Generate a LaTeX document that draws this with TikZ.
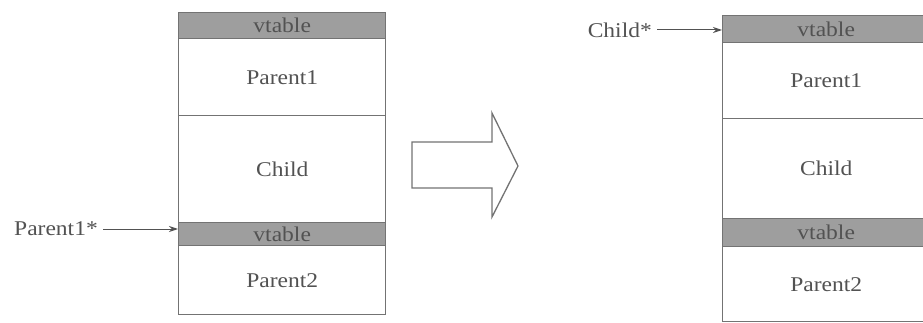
\documentclass[tikz,border=0pt]{standalone}
\usepackage{fontspec}
\setmainfont[FakeStretch=1.12]{Liberation Serif}
\usetikzlibrary{arrows.meta}
\definecolor{edge}{gray}{0.45}
\definecolor{band}{gray}{0.62}
\definecolor{ink}{gray}{0.32}
\tikzset{
  cell/.style={draw=edge, line width=1.4pt, fill=white, minimum width=207pt, inner sep=0pt, anchor=north west, text=ink, font=\fontsize{21}{24}\selectfont},
  vt/.style={cell, fill=band},
  lbl/.style={text=ink, font=\fontsize{21}{24}\selectfont, inner sep=1pt, anchor=east},
  ptr/.style={draw=ink, line width=1pt, -{Stealth[length=9pt,width=6pt]}},
  bigarrow/.style={draw=edge, line width=1.3pt, fill=white, line join=miter}
}
\begin{document}
\begin{tikzpicture}[x=1pt,y=-1pt]
\useasboundingbox (0,0) rectangle (923,323);
% left stack
\node[vt, minimum height=26pt] (l0) at (178,12) {vtable};
\node[cell, minimum height=77pt] (l1) at (178,38) {Parent1};
\node[cell, minimum height=107pt] (l2) at (178,115) {Child};
\node[vt, minimum height=23pt] (l3) at (178,222) {vtable};
\node[cell, minimum height=69pt] (l4) at (178,245) {Parent2};
% right stack
\node[vt, minimum height=27pt] (r0) at (722,15) {vtable};
\node[cell, minimum height=76pt] (r1) at (722,42) {Parent1};
\node[cell, minimum height=100pt] (r2) at (722,118) {Child};
\node[vt, minimum height=28pt] (r3) at (722,218) {vtable};
\node[cell, minimum height=75pt] (r4) at (722,246) {Parent2};
% pointers
\node[lbl] (p1) at (99,229) {Parent1*};
\draw[ptr] (p1.east) ++(4,0) -- (l3.west |- p1.east);
\node[lbl] (c1) at (653,30) {Child*};
\draw[ptr] (c1.east) ++(4,0) -- (r0.west |- c1.east);
% big hollow arrow
\draw[bigarrow] (412,142) -- (492,142) -- (492,113) -- (518,166) -- (492,217) -- (492,188) -- (412,188) -- cycle;
\end{tikzpicture}
\end{document}
